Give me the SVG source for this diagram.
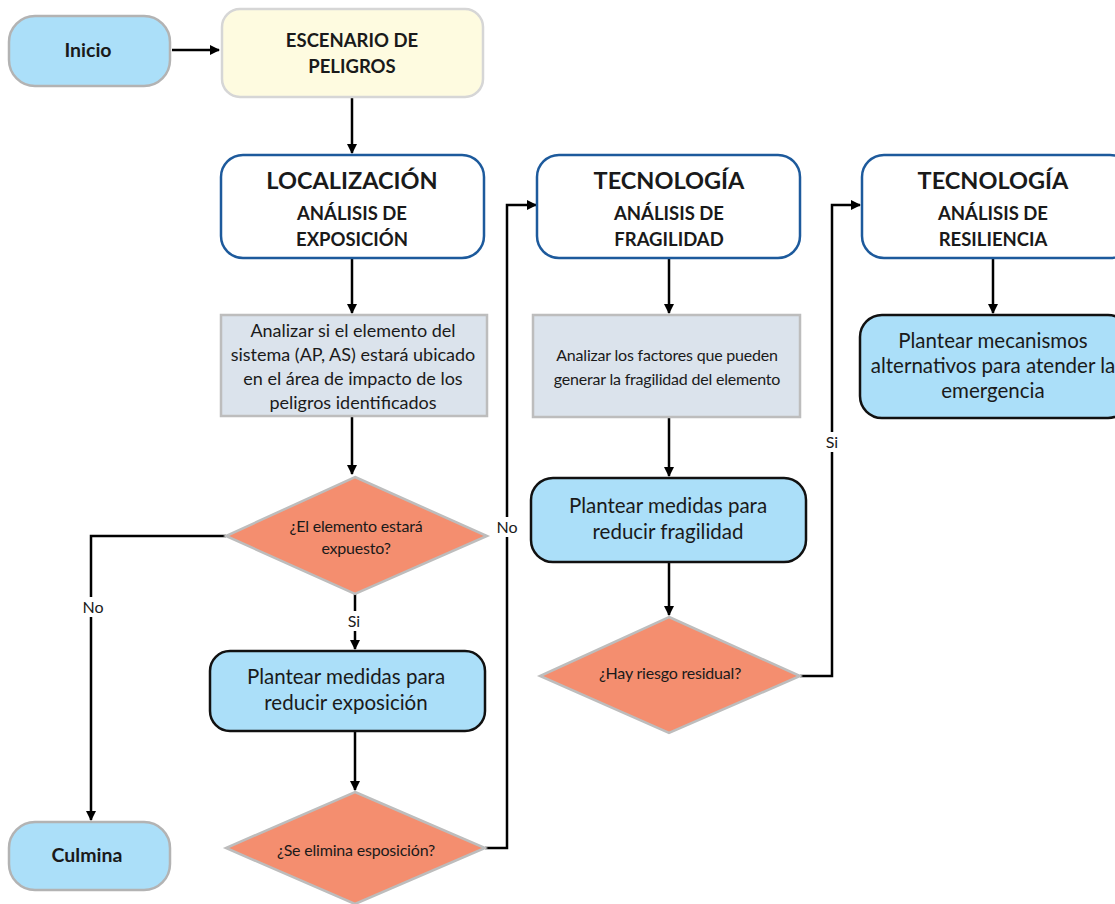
<svg xmlns="http://www.w3.org/2000/svg" width="1115" height="904" viewBox="0 0 1115 904">
<defs>
<marker id="ah" markerWidth="10" markerHeight="10" refX="9" refY="5" orient="auto" markerUnits="userSpaceOnUse" viewBox="0 0 10 10">
<path d="M0,0 L10,5 L0,10 z" fill="#000"/>
</marker>
<style>
text{font-family:Lato,"Open Sans","Noto Sans",sans-serif;fill:#1a1a1a;text-anchor:middle}
.term{fill:#abdff9;stroke:#b3b3b3;stroke-width:2.5}
.scen{fill:#fefbe0;stroke:#d6d6d6;stroke-width:2.5}
.head{fill:#fff;stroke:#1d5a9c;stroke-width:2.5}
.gray{fill:#dbe3ec;stroke:#bdbdbd;stroke-width:2.5}
.act{fill:#abdff9;stroke:#111;stroke-width:2.5}
.dia{fill:#f48e6f;stroke:#bdbdbd;stroke-width:2.5}
.b{font-weight:bold;font-size:19.5px}
.h1{font-weight:bold;font-size:23.5px}
.h2{font-weight:bold;font-size:18.5px}
.t16{font-size:18px}
.t19{font-size:20.5px}
.cond{font-size:16px;letter-spacing:-0.2px}
.lbl{font-size:16px}
.conn path{fill:none;stroke:#000;stroke-width:2.5}
</style>
</defs>
<rect width="1115" height="904" fill="#fff"/>
<g class="conn">
<path d="M172,50 H219" marker-end="url(#ah)"/>
<path d="M352,97 V153" marker-end="url(#ah)"/>
<path d="M352,258 V313" marker-end="url(#ah)"/>
<path d="M352,416 V474" marker-end="url(#ah)"/>
<path d="M226,536 H91 V820" marker-end="url(#ah)"/>
<path d="M355,594 V649" marker-end="url(#ah)"/>
<path d="M355,731 V790" marker-end="url(#ah)"/>
<path d="M485,848 H507 V205 H536" marker-end="url(#ah)"/>
<path d="M669,258 V313" marker-end="url(#ah)"/>
<path d="M669,417 V476" marker-end="url(#ah)"/>
<path d="M669,562 V615" marker-end="url(#ah)"/>
<path d="M800,676 H832 V205 H860" marker-end="url(#ah)"/>
<path d="M993,258 V313" marker-end="url(#ah)"/>
<rect x="80" y="597" width="26" height="20" fill="#fff" stroke="none"/>
<text x="93" y="613" class="lbl">No</text>
<rect x="344" y="611" width="22" height="20" fill="#fff" stroke="none"/>
<text x="354" y="627" class="lbl">Si</text>
<rect x="494" y="517" width="26" height="20" fill="#fff" stroke="none"/>
<text x="507" y="533" class="lbl">No</text>
<rect x="822" y="432" width="20" height="20" fill="#fff" stroke="none"/>
<text x="832" y="448" class="lbl">Si</text>
</g>
<g id="inicio">
<rect class="term" x="9" y="16" width="161" height="70" rx="26"/>
<text x="88" y="57" class="b">Inicio</text>
</g>
<g id="escenario">
<rect class="scen" x="222" y="9" width="261" height="88" rx="18"/>
<text x="352" y="47" class="h2">ESCENARIO DE</text>
<text x="352" y="73" class="h2">PELIGROS</text>
</g>
<g id="localizacion">
<rect class="head" x="221" y="155" width="263" height="103" rx="22"/>
<text x="352" y="189" class="h1">LOCALIZACIÓN</text>
<text x="352" y="220" class="h2">ANÁLISIS DE</text>
<text x="352" y="246" class="h2">EXPOSICIÓN</text>
</g>
<g id="analizar1">
<rect class="gray" x="221" y="315" width="266" height="101"/>
<text x="353" y="337" class="t16">Analizar si el elemento del</text>
<text x="353" y="361" class="t16">sistema (AP, AS) estará ubicado</text>
<text x="353" y="385" class="t16">en el área de impacto de los</text>
<text x="353" y="409" class="t16">peligros identificados</text>
</g>
<g id="expuesto">
<polygon class="dia" points="355,477 487,536 355,594 226,536"/>
<text x="356" y="532" class="cond">¿El elemento estará</text>
<text x="356" y="554" class="cond">expuesto?</text>
</g>
<g id="culmina">
<rect class="term" x="9" y="822" width="161" height="68" rx="26"/>
<text x="87" y="862" class="b">Culmina</text>
</g>
<g id="reducirExposicion">
<rect class="act" x="210" y="651" width="275" height="80" rx="20"/>
<text x="346" y="684" class="t19">Plantear medidas para</text>
<text x="346" y="710" class="t19">reducir exposición</text>
</g>
<g id="elimina">
<polygon class="dia" points="355,792 485,848 355,904 226,848"/>
<text x="356" y="856" class="cond">¿Se elimina esposición?</text>
</g>
<g id="fragilidad">
<rect class="head" x="537" y="155" width="263" height="103" rx="22"/>
<text x="669" y="189" class="h1">TECNOLOGÍA</text>
<text x="669" y="220" class="h2">ANÁLISIS DE</text>
<text x="669" y="246" class="h2">FRAGILIDAD</text>
</g>
<g id="analizar2">
<rect class="gray" x="533" y="315" width="267" height="102"/>
<text x="667" y="361" class="cond">Analizar los factores que pueden</text>
<text x="667" y="385" class="cond">generar la fragilidad del elemento</text>
</g>
<g id="reducirFragilidad">
<rect class="act" x="531" y="478" width="275" height="84" rx="22"/>
<text x="668" y="513" class="t19">Plantear medidas para</text>
<text x="668" y="539" class="t19">reducir fragilidad</text>
</g>
<g id="residual">
<polygon class="dia" points="669,617 800,676 669,733 540,676"/>
<text x="670" y="679" class="cond">¿Hay riesgo residual?</text>
</g>
<g id="resiliencia">
<rect class="head" x="862" y="155" width="270" height="103" rx="22"/>
<text x="993" y="189" class="h1">TECNOLOGÍA</text>
<text x="993" y="220" class="h2">ANÁLISIS DE</text>
<text x="993" y="246" class="h2">RESILIENCIA</text>
</g>
<g id="mecanismos">
<rect class="act" x="860" y="315" width="270" height="103" rx="22"/>
<text x="993" y="348" class="t19">Plantear mecanismos</text>
<text x="993" y="373" class="t19">alternativos para atender la</text>
<text x="993" y="398" class="t19">emergencia</text>
</g>
</svg>
